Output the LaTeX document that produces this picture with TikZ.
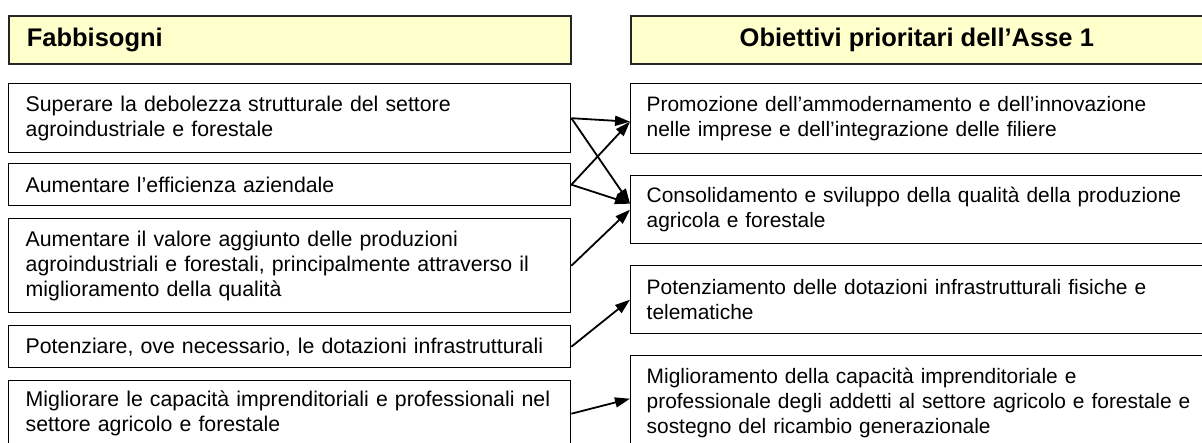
\documentclass[tikz,border=0pt]{standalone}
\usepackage{fontspec}
\setmainfont{Liberation Sans}
\usetikzlibrary{arrows.meta}
\definecolor{hdrfill}{HTML}{FFFFCC}
\begin{document}
\begin{tikzpicture}[x=1pt,y=-1pt,
  hdr/.style={draw=black!85, line width=1.6pt, fill=hdrfill, anchor=north west,
    minimum height=48pt, inner ysep=0pt, font=\fontsize{25.5}{29}\selectfont\bfseries},
  lbox/.style={draw=black, line width=1.4pt, anchor=north west, minimum width=562pt,
    text width=528pt, inner xsep=17pt, inner ysep=0pt, align=left,
    font=\fontsize{21.3}{25}\selectfont},
  rbox/.style={draw=black, line width=1.4pt, anchor=north west, minimum width=640pt,
    text width=608pt, inner xsep=16pt, inner ysep=0pt, align=left,
    font=\fontsize{20.9}{25}\selectfont},
  conn/.style={line width=1.8pt, -{Triangle[length=15pt,width=10pt]}}
]
\useasboundingbox (0,0) rectangle (1202,443);
\clip (0,0) rectangle (1202,443);

% headers
\node[hdr, minimum width=562pt, text width=526pt, inner xsep=18pt, align=left] (hl) at (8,15) {Fabbisogni};
\node[hdr, minimum width=572pt, align=center] (hr) at (630,15) {Obiettivi prioritari dell'Asse 1};

% left column
\node[lbox, minimum height=69pt] (b1) at (8,83) {Superare la debolezza strutturale del settore\\agroindustriale e forestale};
\node[lbox, minimum height=42pt] (b2) at (8,163) {Aumentare l'efficienza aziendale};
\node[lbox, minimum height=94pt] (b3) at (8,218) {Aumentare il valore aggiunto delle produzioni\\\mbox{agroindustriali e forestali, principalmente attraverso il}\\miglioramento della qualità};
\node[lbox, minimum height=42pt] (b4) at (8,325) {\mbox{Potenziare, ove necessario, le dotazioni infrastrutturali}};
\node[lbox, minimum height=66pt] (b5) at (8,380) {\mbox{Migliorare le capacità imprenditoriali e professionali nel}\\settore agricolo e forestale};

% right column
\node[rbox, minimum height=70pt] (r1) at (630,83) {Promozione dell'ammodernamento e dell'innovazione\\nelle imprese e dell'integrazione delle filiere};
\node[rbox, minimum height=68pt] (r2) at (630,175) {Consolidamento e sviluppo della qualità della produzione\\agricola e forestale};
\node[rbox, minimum height=68pt] (r3) at (630,265) {Potenziamento delle dotazioni infrastrutturali fisiche e\\telematiche};
\node[rbox, minimum height=94pt] (r4) at (630,355) {Miglioramento della capacità imprenditoriale e\\\mbox{professionale degli addetti al settore agricolo e forestale e}\\sostegno del ricambio generazionale};

% connectors
\draw[conn] (b1.east) -- ([yshift=-3pt]r1.west);
\draw[conn] (b1.east) -- ([yshift=6pt]r2.west);
\draw[conn] (b2.east) -- ([yshift=-3pt]r1.west);
\draw[conn] (b2.east) -- ([yshift=6pt]r2.west);
\draw[conn] (b3.east) -- (r2.west);
\draw[conn] (b4.east) -- (r3.west);
\draw[conn] (b5.east) -- ([yshift=4pt]r4.west);
\end{tikzpicture}
\end{document}
